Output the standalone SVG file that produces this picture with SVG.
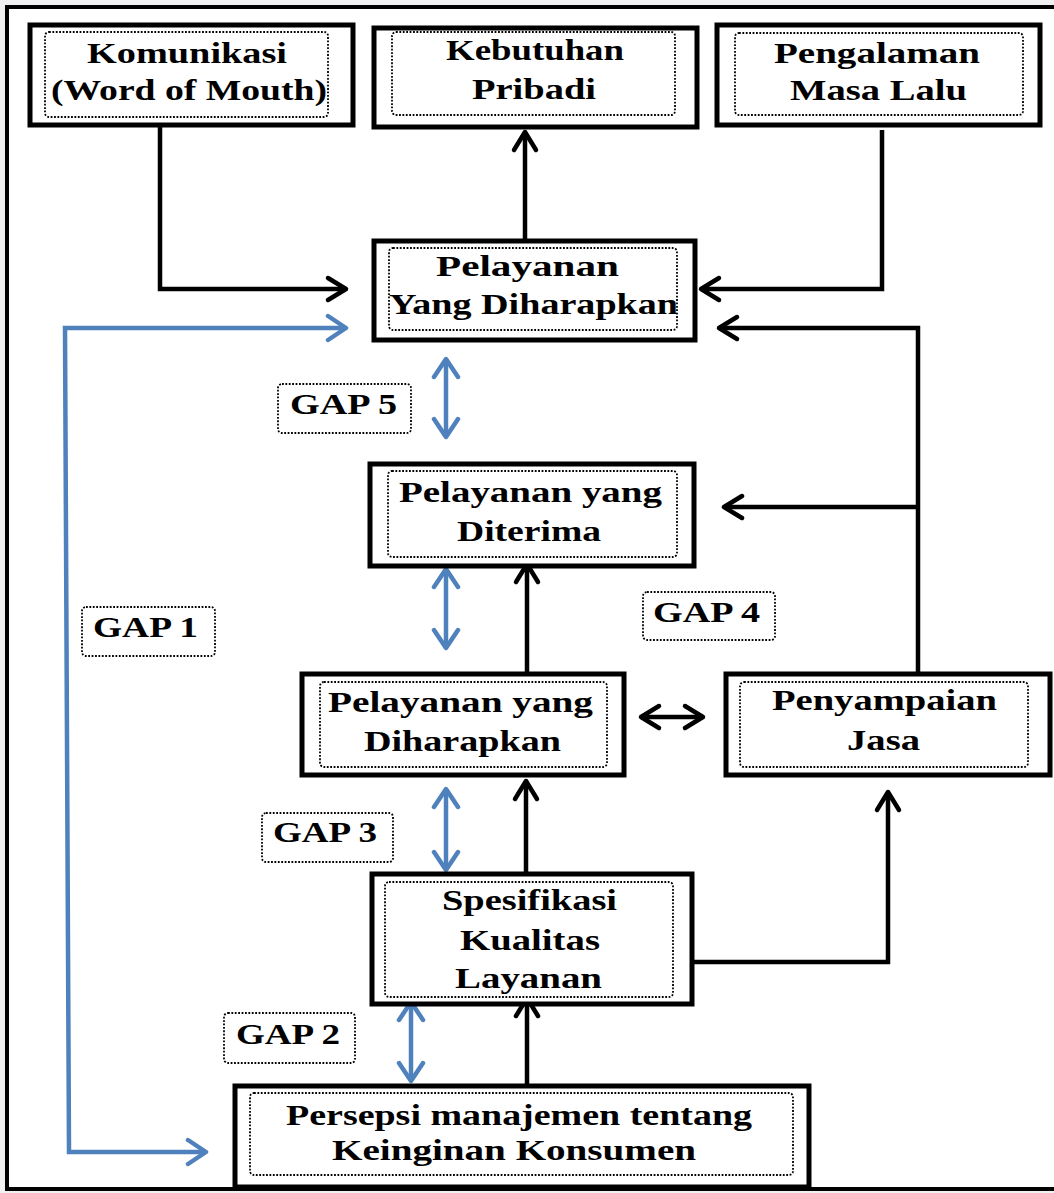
<svg xmlns="http://www.w3.org/2000/svg" width="1054" height="1193" viewBox="0 0 1054 1193">
<style>
.bg{fill:#f0f0f3}
.frame{fill:#fff;stroke:#000;stroke-width:4}
.box{fill:#fff;stroke:#000;stroke-width:5}
.dot{fill:none;stroke:#000;stroke-width:1.8;stroke-dasharray:1.8 1.6}
.t{font-family:"Liberation Serif","Times New Roman",serif;font-weight:bold;font-size:30px;fill:#000}
.k{fill:none;stroke:#000;stroke-width:4.5}
.b{fill:none;stroke:#4F81BD;stroke-width:4.5}
</style>
<defs>
<marker id="ak" markerUnits="userSpaceOnUse" markerWidth="30" markerHeight="30" viewBox="0 0 30 30" refX="24" refY="15" orient="auto-start-reverse">
<path d="M6,4 L24,15 L6,26" fill="none" stroke="#000" stroke-width="4.5" stroke-linejoin="round" stroke-linecap="round"/>
</marker>
<marker id="ab" markerUnits="userSpaceOnUse" markerWidth="30" markerHeight="30" viewBox="0 0 30 30" refX="24" refY="15" orient="auto-start-reverse">
<path d="M6,3 L24,15 L6,27" fill="none" stroke="#4F81BD" stroke-width="4.5" stroke-linejoin="round" stroke-linecap="round"/>
</marker>
</defs>
<rect class="bg" x="0" y="0" width="1054" height="1193"/>
<rect class="frame" x="7" y="7" width="1100" height="1182"/>

<g id="connectors">
<path class="k" d="M160,127 V289 H346" marker-end="url(#ak)"/>
<path class="k" d="M882,130 V289 H701" marker-end="url(#ak)"/>
<path class="k" d="M525,239 V132" marker-end="url(#ak)"/>
<path class="k" d="M918,672 V328 H719" marker-end="url(#ak)"/>
<path class="k" d="M918,507 H724" marker-end="url(#ak)"/>
<path class="k" d="M527,672 V564" marker-end="url(#ak)"/>
<path class="k" d="M526,872 V781" marker-end="url(#ak)"/>
<path class="k" d="M527,1084 V998" marker-end="url(#ak)"/>
<path class="k" d="M694,962 H888 V792" marker-end="url(#ak)"/>
<path class="k" d="M641,717 H703" marker-start="url(#ak)" marker-end="url(#ak)"/>
<path class="b" d="M446,359 V437" marker-start="url(#ab)" marker-end="url(#ab)"/>
<path class="b" d="M446,569 V648" marker-start="url(#ab)" marker-end="url(#ab)"/>
<path class="b" d="M446,789 V870" marker-start="url(#ab)" marker-end="url(#ab)"/>
<path class="b" d="M411,1002 V1081" marker-start="url(#ab)" marker-end="url(#ab)"/>
<path class="b" d="M346,328 H65 L69,1152 H206" marker-start="url(#ab)" marker-end="url(#ab)"/>
</g>

<g id="n-komunikasi">
<rect class="box" x="30" y="25" width="323" height="100"/>
<rect class="dot" x="45" y="32" width="283" height="85" rx="4"/>
<text class="t" x="87" y="63" textLength="200" lengthAdjust="spacingAndGlyphs">Komunikasi</text>
<text class="t" x="51" y="100" textLength="276" lengthAdjust="spacingAndGlyphs">(Word of Mouth)</text>
</g>

<g id="n-kebutuhan">
<rect class="box" x="374" y="28" width="323" height="99"/>
<rect class="dot" x="392" y="32" width="283" height="83" rx="4"/>
<text class="t" x="446" y="60" textLength="178" lengthAdjust="spacingAndGlyphs">Kebutuhan</text>
<text class="t" x="472" y="99" textLength="124" lengthAdjust="spacingAndGlyphs">Pribadi</text>
</g>

<g id="n-pengalaman">
<rect class="box" x="717" y="25" width="323" height="100"/>
<rect class="dot" x="735" y="33" width="288" height="82" rx="4"/>
<text class="t" x="774" y="63" textLength="206" lengthAdjust="spacingAndGlyphs">Pengalaman</text>
<text class="t" x="790" y="100" textLength="177" lengthAdjust="spacingAndGlyphs">Masa Lalu</text>
</g>

<g id="n-diharapkan-top">
<rect class="box" x="374" y="241" width="321" height="99"/>
<rect class="dot" x="389" y="248" width="288" height="82" rx="4"/>
<text class="t" x="436" y="276" textLength="183" lengthAdjust="spacingAndGlyphs">Pelayanan</text>
<text class="t" x="389" y="314" textLength="289" lengthAdjust="spacingAndGlyphs">Yang Diharapkan</text>
</g>

<g id="n-diterima">
<rect class="box" x="370" y="464" width="324" height="102"/>
<rect class="dot" x="388" y="471" width="289" height="86" rx="4"/>
<text class="t" x="399" y="502" textLength="263" lengthAdjust="spacingAndGlyphs">Pelayanan yang</text>
<text class="t" x="457" y="541" textLength="144" lengthAdjust="spacingAndGlyphs">Diterima</text>
</g>

<g id="n-diharapkan-mid">
<rect class="box" x="302" y="674" width="322" height="101"/>
<rect class="dot" x="320" y="682" width="287" height="85" rx="4"/>
<text class="t" x="328" y="712" textLength="265" lengthAdjust="spacingAndGlyphs">Pelayanan yang</text>
<text class="t" x="364" y="751" textLength="197" lengthAdjust="spacingAndGlyphs">Diharapkan</text>
</g>

<g id="n-penyampaian">
<rect class="box" x="726" y="674" width="324" height="101"/>
<rect class="dot" x="740" y="682" width="288" height="85" rx="4"/>
<text class="t" x="772" y="710" textLength="225" lengthAdjust="spacingAndGlyphs">Penyampaian</text>
<text class="t" x="847" y="750" textLength="73" lengthAdjust="spacingAndGlyphs">Jasa</text>
</g>

<g id="n-spesifikasi">
<rect class="box" x="372" y="874" width="320" height="130"/>
<rect class="dot" x="385" y="882" width="288" height="115" rx="4"/>
<text class="t" x="442" y="910" textLength="175" lengthAdjust="spacingAndGlyphs">Spesifikasi</text>
<text class="t" x="460" y="950" textLength="140" lengthAdjust="spacingAndGlyphs">Kualitas</text>
<text class="t" x="455" y="988" textLength="147" lengthAdjust="spacingAndGlyphs">Layanan</text>
</g>

<g id="n-persepsi">
<rect class="box" x="235" y="1086" width="574" height="101"/>
<rect class="dot" x="250" y="1093" width="543" height="82" rx="4"/>
<text class="t" x="286" y="1125" textLength="466" lengthAdjust="spacingAndGlyphs">Persepsi manajemen tentang</text>
<text class="t" x="332" y="1160" textLength="364" lengthAdjust="spacingAndGlyphs">Keinginan Konsumen</text>
</g>

<g id="gap1">
<rect class="dot" x="82" y="607" width="133" height="49" rx="4"/>
<text class="t" x="93" y="637" textLength="105" lengthAdjust="spacingAndGlyphs">GAP 1</text>
</g>
<g id="gap2">
<rect class="dot" x="224" y="1013" width="131" height="50" rx="4"/>
<text class="t" x="236" y="1044" textLength="104" lengthAdjust="spacingAndGlyphs">GAP 2</text>
</g>
<g id="gap3">
<rect class="dot" x="262" y="813" width="131" height="49" rx="4"/>
<text class="t" x="273" y="842" textLength="104" lengthAdjust="spacingAndGlyphs">GAP 3</text>
</g>
<g id="gap4">
<rect class="dot" x="643" y="592" width="132" height="48" rx="4"/>
<text class="t" x="653" y="622" textLength="107" lengthAdjust="spacingAndGlyphs">GAP 4</text>
</g>
<g id="gap5">
<rect class="dot" x="278" y="384" width="133" height="49" rx="4"/>
<text class="t" x="290" y="414" textLength="107" lengthAdjust="spacingAndGlyphs">GAP 5</text>
</g>
</svg>
